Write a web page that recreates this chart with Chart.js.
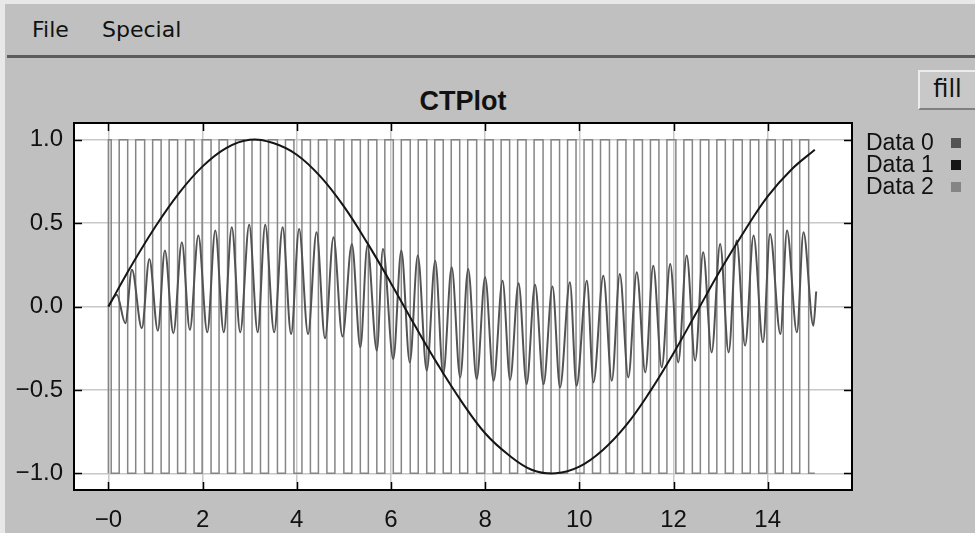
<!DOCTYPE html>
<html>
<head>
<meta charset="utf-8">
<script src="https://cdn.jsdelivr.net/npm/chart.js@4/dist/chart.umd.min.js"></script>
<style>
  html, body { margin: 0; padding: 0; }
  body { width: 975px; height: 533px; background: #c0c0c0; position: relative; overflow: hidden; }
  #edgeTop { position: absolute; left: 0; top: 0; width: 975px; height: 4px; background: #e8e8e8; }
  #edgeLeft { position: absolute; left: 0; top: 0; width: 5px; height: 533px; background: #e8e8e8; }
  #menu { position: absolute; left: 5px; top: 4px; width: 970px; height: 51px; background: #c0c0c0; }
  #menu span { position: absolute; top: 13px; font: 22px "DejaVu Sans", sans-serif; color: #111; }
  #menuLine { position: absolute; left: 7px; top: 55px; width: 968px; height: 3px; background: #5c5c5c; }
  #fill { position: absolute; left: 918px; top: 70px; width: 57px; height: 40px; box-sizing: border-box;
          background: #c8c8c8; border-top: 2px solid #ececec; border-left: 2px solid #ececec;
          border-bottom: 2px solid #808080; border-right: 0; font: 24px "DejaVu Sans", sans-serif;
          color: #111; text-align: center; line-height: 34px; }
  #title { position: absolute; left: 74px; width: 778px; top: 86px; text-align: center;
           font: bold 27px "Liberation Sans", Arial, sans-serif; color: #111; }
  canvas { position: absolute; left: 0; top: 0; }
</style>
</head>
<body>
<div id="edgeTop"></div>
<div id="edgeLeft"></div>
<div id="menu"><span style="left:27px">File</span><span style="left:97px">Special</span></div>
<div id="menuLine"></div>
<div id="fill">fill</div>
<div id="title">CTPlot</div>
<canvas id="chart" width="975" height="533"></canvas>
<script>
// series names as shown in the legend
const seriesLabels = ["Data 0", "Data 1", "Data 2"];
const seriesColors = ["#535353", "#151515", "#858585"];

// axis ticks
const xTicks = [0, 2, 4, 6, 8, 10, 12, 14];
const xTickLabels = ["\u22120", "2", "4", "6", "8", "10", "12", "14"];
const yTicks = [-1, -0.5, 0, 0.5, 1];
const yTickLabels = ["\u22121.0", "\u22120.5", "0.0", "0.5", "1.0"];

// Data 0: fast oscillation, peaks and troughs
const oscPeakX = [0.18, 0.5, 0.87, 1.2, 1.56, 1.91, 2.27, 2.62, 2.99, 3.33, 3.7, 4.05, 4.42, 4.78,
  5.17, 5.5, 5.83, 6.22, 6.57, 6.94, 7.29, 7.64, 8.0, 8.37, 8.71, 9.06, 9.43, 9.8, 10.16, 10.51,
  10.86, 11.22, 11.57, 11.93, 12.28, 12.63, 12.99, 13.34, 13.7, 14.05, 14.41, 14.76];
const oscPeakY = [0.07, 0.22, 0.285, 0.335, 0.385, 0.425, 0.455, 0.475, 0.49, 0.49, 0.475, 0.465, 0.445, 0.415,
  0.375, 0.365, 0.345, 0.335, 0.305, 0.275, 0.235, 0.225, 0.175, 0.155, 0.14, 0.13, 0.12, 0.145, 0.155, 0.185,
  0.195, 0.205, 0.245, 0.255, 0.305, 0.325, 0.375, 0.395, 0.425, 0.435, 0.455, 0.445];
const oscTroughX = [0.36, 0.71, 1.05, 1.38, 1.73, 2.1, 2.45, 2.8, 3.17, 3.52, 3.88, 4.24, 4.6, 4.97,
  5.35, 5.7, 6.05, 6.4, 6.76, 7.11, 7.47, 7.82, 8.18, 8.53, 8.88, 9.24, 9.59, 9.94, 10.3, 10.69,
  11.04, 11.4, 11.75, 12.1, 12.46, 12.81, 13.17, 13.52, 13.9, 14.27, 14.62, 14.97];
const oscTroughY = [-0.1, -0.13, -0.145, -0.16, -0.14, -0.155, -0.155, -0.155, -0.155, -0.155, -0.165, -0.165, -0.19, -0.18,
  -0.245, -0.265, -0.315, -0.335, -0.385, -0.405, -0.425, -0.435, -0.445, -0.44, -0.465, -0.465, -0.485, -0.475, -0.455, -0.445,
  -0.425, -0.395, -0.365, -0.335, -0.325, -0.275, -0.275, -0.235, -0.215, -0.165, -0.155, -0.115];
const oscEnd = [15.03, 0.09];

// Data 1: slow sine-like curve
const slowX = [0, 0.5, 1, 1.5, 2, 2.5, 3, 3.5, 4, 4.5, 5, 5.5, 6, 6.5, 7, 7.5,
  8, 8.5, 9, 9.5, 10, 10.5, 11, 11.5, 12, 12.5, 13, 13.5, 14, 14.5, 15];
const slowY = [0, 0.25, 0.48, 0.68, 0.84, 0.95, 1.0, 0.98, 0.91, 0.78, 0.6, 0.38, 0.14, -0.11, -0.35, -0.57,
  -0.76, -0.89, -0.98, -1.0, -0.96, -0.86, -0.71, -0.51, -0.28, -0.03, 0.22, 0.45, 0.66, 0.82, 0.94];

// Data 2: square wave, x where it falls to -1 and rises back to +1
const squareFallX = [0.06, 0.41, 0.77, 1.12, 1.47, 1.82, 2.18, 2.53, 2.88, 3.23, 3.59, 3.94, 4.29, 4.64,
  5.0, 5.35, 5.7, 6.05, 6.41, 6.76, 7.11, 7.46, 7.82, 8.17, 8.52, 8.87, 9.23, 9.58, 9.93, 10.28,
  10.64, 10.99, 11.34, 11.69, 12.05, 12.4, 12.75, 13.1, 13.46, 13.81, 14.16, 14.51, 14.87];
const squareRiseX = [0.23, 0.58, 0.94, 1.29, 1.64, 1.99, 2.35, 2.7, 3.05, 3.4, 3.76, 4.11, 4.46, 4.81,
  5.17, 5.52, 5.87, 6.22, 6.58, 6.93, 7.28, 7.63, 7.99, 8.34, 8.69, 9.04, 9.4, 9.75, 10.1, 10.45,
  10.81, 11.16, 11.51, 11.86, 12.22, 12.57, 12.92, 13.27, 13.63, 13.98, 14.33, 14.68];
const squareStartX = 0;
const squareEndX = 15.0;
const squareHigh = 1;
const squareLow = -1;

// build point lists
const oscPoints = [{ x: 0, y: 0 }];
oscPeakX.forEach((x, i) => {
  oscPoints.push({ x: x, y: oscPeakY[i] });
  oscPoints.push({ x: oscTroughX[i], y: oscTroughY[i] });
});
oscPoints.push({ x: oscEnd[0], y: oscEnd[1] });

const slowPoints = slowX.map((x, i) => ({ x: x, y: slowY[i] }));

const squarePoints = [{ x: squareStartX, y: squareLow }, { x: squareStartX, y: squareHigh }];
squareFallX.forEach((x, i) => {
  squarePoints.push({ x: x, y: squareHigh }, { x: x, y: squareLow });
  if (i < squareRiseX.length) {
    squarePoints.push({ x: squareRiseX[i], y: squareLow }, { x: squareRiseX[i], y: squareHigh });
  }
});
squarePoints.push({ x: squareEndX, y: squareLow });

// white plot area, black frame, inward ticks and the legend on the right
const plotFrame = {
  id: "plotFrame",
  beforeDraw(chart) {
    const { ctx, chartArea: a } = chart;
    ctx.save();
    ctx.fillStyle = "#ffffff";
    ctx.fillRect(a.left, a.top, a.right - a.left, a.bottom - a.top);
    ctx.restore();
  },
  afterDraw(chart) {
    const { ctx, chartArea: a, scales } = chart;
    ctx.save();
    ctx.strokeStyle = "#000";
    ctx.lineWidth = 1.5;
    ctx.beginPath();
    xTicks.forEach(v => {
      const px = Math.round(scales.x.getPixelForValue(v)) + 0.5;
      ctx.moveTo(px, a.top); ctx.lineTo(px, a.top + 8);
      ctx.moveTo(px, a.bottom); ctx.lineTo(px, a.bottom - 8);
    });
    yTicks.forEach(v => {
      const py = Math.round(scales.y.getPixelForValue(v)) + 0.5;
      ctx.moveTo(a.left, py); ctx.lineTo(a.left + 8, py);
      ctx.moveTo(a.right, py); ctx.lineTo(a.right - 8, py);
    });
    ctx.stroke();
    ctx.lineWidth = 2;
    ctx.strokeRect(a.left, a.top, a.right - a.left, a.bottom - a.top);

    ctx.font = "23px 'Liberation Sans', Arial, sans-serif";
    ctx.textBaseline = "middle";
    ctx.textAlign = "left";
    seriesLabels.forEach((label, i) => {
      const y = 144 + i * 22;
      ctx.fillStyle = "#111";
      ctx.fillText(label, 866, y);
      ctx.fillStyle = seriesColors[i];
      ctx.fillRect(951, y - 6, 10, 10);
    });
    ctx.restore();
  }
};

new Chart(document.getElementById("chart"), {
  type: "line",
  data: {
    datasets: [
      { label: seriesLabels[1], data: slowPoints, borderColor: seriesColors[1], borderWidth: 2,
        pointRadius: 0, tension: 0.4, order: 0 },
      { label: seriesLabels[0], data: oscPoints, borderColor: seriesColors[0], borderWidth: 2,
        pointRadius: 0, cubicInterpolationMode: "monotone", order: 1 },
      { label: seriesLabels[2], data: squarePoints, borderColor: seriesColors[2], borderWidth: 1.5,
        pointRadius: 0, tension: 0, order: 2 }
    ]
  },
  options: {
    responsive: false,
    animation: false,
    events: [],
    layout: { padding: { left: 0, top: 123, right: 123, bottom: 0 } },
    plugins: { legend: { display: false }, title: { display: false }, tooltip: { enabled: false } },
    scales: {
      x: {
        type: "linear",
        min: -0.73,
        max: 15.79,
        afterBuildTicks: s => { s.ticks = xTicks.map(v => ({ value: v })); },
        afterFit: s => { s.height = 43; },
        border: { display: false },
        grid: { color: "#c8c8c8", lineWidth: 1.5, drawTicks: false },
        ticks: {
          padding: 16,
          color: "#111",
          maxRotation: 0,
          autoSkip: false,
          font: { family: "'Liberation Sans', Arial, sans-serif", size: 24 },
          callback: v => xTickLabels[xTicks.indexOf(v)]
        }
      },
      y: {
        min: -1.1,
        max: 1.1,
        afterBuildTicks: s => { s.ticks = yTicks.map(v => ({ value: v })); },
        afterFit: s => { s.width = 74; },
        border: { display: false },
        grid: { color: "#c8c8c8", lineWidth: 1.5, drawTicks: false },
        ticks: {
          padding: 11,
          color: "#111",
          autoSkip: false,
          font: { family: "'Liberation Sans', Arial, sans-serif", size: 24 },
          callback: v => yTickLabels[yTicks.indexOf(v)]
        }
      }
    }
  },
  plugins: [plotFrame]
});
</script>
</body>
</html>
